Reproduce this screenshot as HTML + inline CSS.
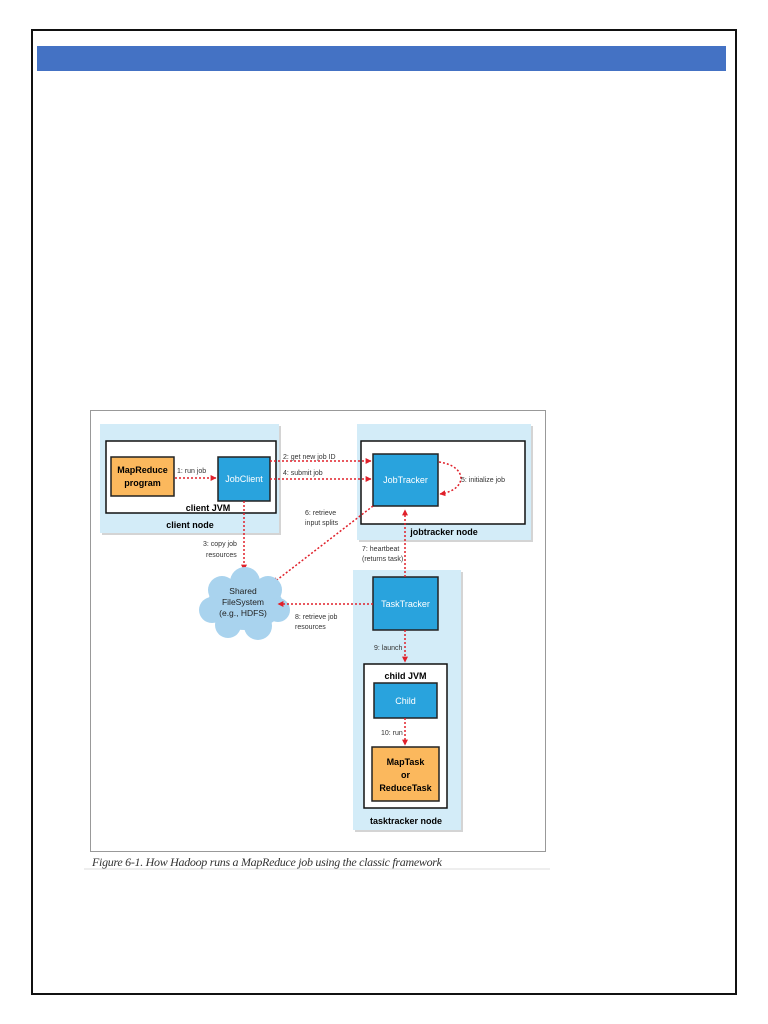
<!DOCTYPE html>
<html><head><meta charset="utf-8"><style>
html,body{margin:0;padding:0;background:#fff;}
body{width:768px;height:1024px;position:relative;overflow:hidden;font-family:"Liberation Sans",sans-serif;}
</style></head><body>
<svg width="768" height="1024" viewBox="0 0 768 1024" xmlns="http://www.w3.org/2000/svg" style="position:absolute;left:0;top:0">
<defs>
<marker id="a" viewBox="0 0 10 10" refX="9" refY="5" markerWidth="4" markerHeight="4" orient="auto"><path d="M0,0 L10,5 L0,10 z" fill="#e0202a"/></marker>
</defs>
<rect x="32" y="30" width="704" height="964" fill="#fff" stroke="#111" stroke-width="2"/>
<rect x="37" y="46" width="689" height="25" fill="#4472c4"/>
<!-- figure frame -->
<rect x="90.5" y="410.5" width="455" height="441" fill="#fff" stroke="#999" stroke-width="1"/>
<line x1="84" y1="869" x2="550" y2="869" stroke="#ddd"/>
<text x="92" y="866" font-family="Liberation Serif,serif" font-style="italic" font-size="12" fill="#333" textLength="350">Figure 6-1. How Hadoop runs a MapReduce job using the classic framework</text>
<g font-family="Liberation Sans,sans-serif">
<!-- client node -->
<rect x="102" y="426" width="179" height="109" fill="#b8b8b8" opacity="0.6"/>
<rect x="100" y="424" width="179" height="109" fill="#d3ecf8"/>
<rect x="106" y="441" width="170" height="72" fill="#fff" stroke="#111" stroke-width="1.5"/>
<rect x="111" y="457" width="63" height="39" fill="#fbb85d" stroke="#222" stroke-width="1.5"/>
<text x="142.5" y="473" font-size="9" font-weight="bold" text-anchor="middle">MapReduce</text>
<text x="142.5" y="486" font-size="9" font-weight="bold" text-anchor="middle">program</text>
<rect x="218" y="457" width="52" height="44" fill="#29a3dd" stroke="#222" stroke-width="1.5"/>
<text x="244" y="482" font-size="9" fill="#fff" text-anchor="middle">JobClient</text>
<text x="208" y="511" font-size="9" font-weight="bold" text-anchor="middle">client JVM</text>
<text x="190" y="528" font-size="9" font-weight="bold" text-anchor="middle">client node</text>
<line x1="175" y1="478" x2="216" y2="478" stroke="#e0202a" stroke-width="1.5" stroke-dasharray="2,2" marker-end="url(#a)"/>
<text x="177" y="473" font-size="7" fill="#333">1: run job</text>
<!-- jobtracker node -->
<rect x="359" y="426" width="174" height="116" fill="#b8b8b8" opacity="0.6"/>
<rect x="357" y="424" width="174" height="116" fill="#d3ecf8"/>
<rect x="361" y="441" width="164" height="83" fill="#fff" stroke="#111" stroke-width="1.5"/>
<rect x="373" y="454" width="65" height="52" fill="#29a3dd" stroke="#222" stroke-width="1.5"/>
<text x="405.5" y="483" font-size="9" fill="#fff" text-anchor="middle">JobTracker</text>
<text x="444" y="535" font-size="9" font-weight="bold" text-anchor="middle">jobtracker node</text>
<line x1="270" y1="461" x2="371" y2="461" stroke="#e0202a" stroke-width="1.5" stroke-dasharray="2,2" marker-end="url(#a)"/>
<text x="283" y="459" font-size="7" fill="#333">2: get new job ID</text>
<line x1="270" y1="479" x2="371" y2="479" stroke="#e0202a" stroke-width="1.5" stroke-dasharray="2,2" marker-end="url(#a)"/>
<text x="283" y="475" font-size="7" fill="#333">4: submit job</text>
<path d="M439,462 C468,466 468,490 440,494" fill="none" stroke="#e0202a" stroke-width="1.5" stroke-dasharray="2,2" marker-end="url(#a)"/>
<text x="461" y="482" font-size="7" fill="#333">5: initialize job</text>
<!-- 3 copy -->
<line x1="244" y1="501" x2="244" y2="570" stroke="#e0202a" stroke-width="1.5" stroke-dasharray="2,2" marker-end="url(#a)"/>
<text x="203" y="546" font-size="7" fill="#333">3: copy job</text>
<text x="206" y="557" font-size="7" fill="#333">resources</text>
<!-- 6 retrieve -->
<line x1="373" y1="506" x2="273" y2="583" stroke="#e0202a" stroke-width="1.5" stroke-dasharray="2,2" marker-end="url(#a)"/>
<text x="305" y="515" font-size="7" fill="#333">6: retrieve</text>
<text x="305" y="525" font-size="7" fill="#333">input splits</text>
<!-- cloud -->
<g fill="#a9d3ee">
<ellipse cx="245" cy="605" rx="38" ry="25"/>
<circle cx="222" cy="590" r="14"/><circle cx="245" cy="582" r="15"/><circle cx="268" cy="590" r="14"/>
<circle cx="212" cy="610" r="13"/><circle cx="278" cy="610" r="12"/>
<circle cx="228" cy="625" r="13"/><circle cx="258" cy="626" r="14"/>
</g>
<text x="243" y="594" font-size="8.5" text-anchor="middle" fill="#222">Shared</text>
<text x="243" y="605" font-size="8.5" text-anchor="middle" fill="#222">FileSystem</text>
<text x="243" y="616" font-size="8.5" text-anchor="middle" fill="#222">(e.g., HDFS)</text>
<!-- tasktracker node -->
<rect x="355" y="572" width="108" height="260" fill="#b8b8b8" opacity="0.6"/>
<rect x="353" y="570" width="108" height="260" fill="#d3ecf8"/>
<rect x="373" y="577" width="65" height="53" fill="#29a3dd" stroke="#222" stroke-width="1.5"/>
<text x="405.5" y="607" font-size="9" fill="#fff" text-anchor="middle">TaskTracker</text>
<line x1="405" y1="577" x2="405" y2="510" stroke="#e0202a" stroke-width="1.5" stroke-dasharray="2,2" marker-end="url(#a)"/>
<text x="362" y="551" font-size="7" fill="#333">7: heartbeat</text>
<text x="362" y="561" font-size="7" fill="#333">(returns task)</text>
<line x1="373" y1="604" x2="278" y2="604" stroke="#e0202a" stroke-width="1.5" stroke-dasharray="2,2" marker-end="url(#a)"/>
<text x="295" y="619" font-size="7" fill="#333">8: retrieve job</text>
<text x="295" y="629" font-size="7" fill="#333">resources</text>
<line x1="405" y1="630" x2="405" y2="662" stroke="#e0202a" stroke-width="1.5" stroke-dasharray="2,2" marker-end="url(#a)"/>
<text x="374" y="650" font-size="7" fill="#333">9: launch</text>
<rect x="364" y="664" width="83" height="144" fill="#fff" stroke="#111" stroke-width="1.5"/>
<text x="405.5" y="679" font-size="9" font-weight="bold" text-anchor="middle">child JVM</text>
<rect x="374" y="683" width="63" height="35" fill="#29a3dd" stroke="#222" stroke-width="1.5"/>
<text x="405.5" y="704" font-size="9" fill="#fff" text-anchor="middle">Child</text>
<line x1="405" y1="718" x2="405" y2="745" stroke="#e0202a" stroke-width="1.5" stroke-dasharray="2,2" marker-end="url(#a)"/>
<text x="381" y="735" font-size="7" fill="#333">10: run</text>
<rect x="372" y="747" width="67" height="54" fill="#fbb85d" stroke="#222" stroke-width="1.5"/>
<text x="405.5" y="765" font-size="9" font-weight="bold" text-anchor="middle">MapTask</text>
<text x="405.5" y="778" font-size="9" font-weight="bold" text-anchor="middle">or</text>
<text x="405.5" y="791" font-size="9" font-weight="bold" text-anchor="middle">ReduceTask</text>
<text x="406" y="824" font-size="9" font-weight="bold" text-anchor="middle">tasktracker node</text>
</g>
</svg>
</body></html>
